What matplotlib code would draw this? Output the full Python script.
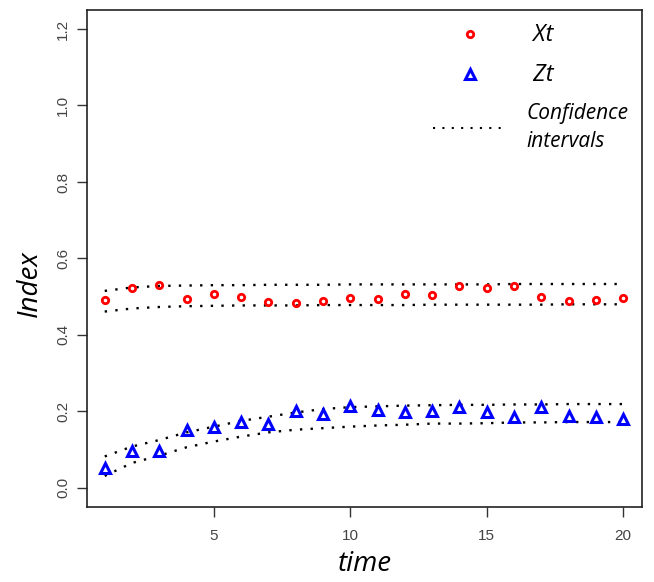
import matplotlib
matplotlib.use("Agg")
import matplotlib.pyplot as plt
from matplotlib.lines import Line2D
import numpy as np

# time steps
time = np.arange(1, 21)

# series values
xt = [0.491, 0.522, 0.530, 0.493, 0.507, 0.499, 0.485, 0.483, 0.488, 0.496,
      0.493, 0.507, 0.505, 0.527, 0.522, 0.527, 0.499, 0.488, 0.491, 0.496]
zt = [0.051, 0.097, 0.097, 0.150, 0.158, 0.172, 0.166, 0.202, 0.193, 0.215,
      0.204, 0.197, 0.202, 0.211, 0.198, 0.184, 0.212, 0.189, 0.186, 0.180]

# confidence bands
xt_upper = [0.515, 0.524, 0.528, 0.529, 0.530, 0.530, 0.531, 0.531, 0.531, 0.532,
            0.532, 0.532, 0.532, 0.532, 0.532, 0.533, 0.533, 0.533, 0.533, 0.533]
xt_lower = [0.461, 0.469, 0.473, 0.475, 0.476, 0.477, 0.477, 0.477, 0.478, 0.478,
            0.478, 0.478, 0.479, 0.479, 0.479, 0.479, 0.479, 0.480, 0.480, 0.480]
zt_upper = [0.082, 0.108, 0.125, 0.145, 0.160, 0.175, 0.186, 0.197, 0.206, 0.211,
            0.213, 0.215, 0.216, 0.217, 0.217, 0.218, 0.218, 0.219, 0.219, 0.219]
zt_lower = [0.031, 0.065, 0.084, 0.106, 0.121, 0.134, 0.145, 0.152, 0.156, 0.160,
            0.163, 0.165, 0.168, 0.168, 0.169, 0.171, 0.171, 0.172, 0.172, 0.172]

xticks = [5, 10, 15, 20]
yticks = [0.0, 0.2, 0.4, 0.6, 0.8, 1.0, 1.2]

plt.rcParams["font.family"] = ["Liberation Sans", "DejaVu Sans"]

fig = plt.figure(figsize=(6.54, 5.82), dpi=100)
ax = fig.add_axes([0.133, 0.129, 0.849, 0.854])

dot = (0, (1, 3.5))
for band in (xt_upper, xt_lower, zt_upper, zt_lower):
    ax.plot(time, band, color="black", lw=1.7, linestyle=dot)

ax.plot(time, xt, linestyle="none", marker="o", markersize=4.6,
        markerfacecolor="none", markeredgecolor="red", markeredgewidth=2)
ax.plot(time, zt, linestyle="none", marker="^", markersize=7.5,
        markerfacecolor="none", markeredgecolor="blue", markeredgewidth=2.2)

ax.set_xlim(0.35, 20.7)
ax.set_ylim(-0.05, 1.25)
ax.set_xticks(xticks)
ax.set_yticks(yticks)
ax.set_yticklabels([f"{v:.1f}" for v in yticks], rotation=90, va="center")
ax.tick_params(direction="out", length=7, width=1, colors="#333333",
               labelsize=11, labelcolor="#444444")
ax.tick_params(axis="x", pad=9)
ax.tick_params(axis="y", pad=5)
for s in ax.spines.values():
    s.set_color("#222222")
    s.set_linewidth(1.2)

ax.set_xlabel("time", fontsize=20, style="italic", family="Open Sans", labelpad=5)
ax.set_ylabel("Index", fontsize=20, style="italic", family="Open Sans")
ax.yaxis.set_label_coords(-0.078, 0.45)

handles = [
    Line2D([], [], linestyle="none", marker="o", markersize=4.6,
           markerfacecolor="none", markeredgecolor="red", markeredgewidth=2),
    Line2D([], [], linestyle="none", marker="^", markersize=7.5,
           markerfacecolor="none", markeredgecolor="blue", markeredgewidth=2.2),
    Line2D([], [], color="black", lw=1.5, linestyle=dot),
]
leg = ax.legend(handles, [" Xt", " Zt", "Confidence\nintervals"], loc="upper right",
                frameon=False, handlelength=3.6, handletextpad=0.9, labelspacing=0.75,
                borderaxespad=0.25,
                prop={"family": "Open Sans", "style": "italic", "size": 15})
for t, size in zip(leg.get_texts(), [17, 17, 15]):
    t.set_fontsize(size)
    t.set_linespacing(1.45)

fig.savefig("out.png", dpi=100)
